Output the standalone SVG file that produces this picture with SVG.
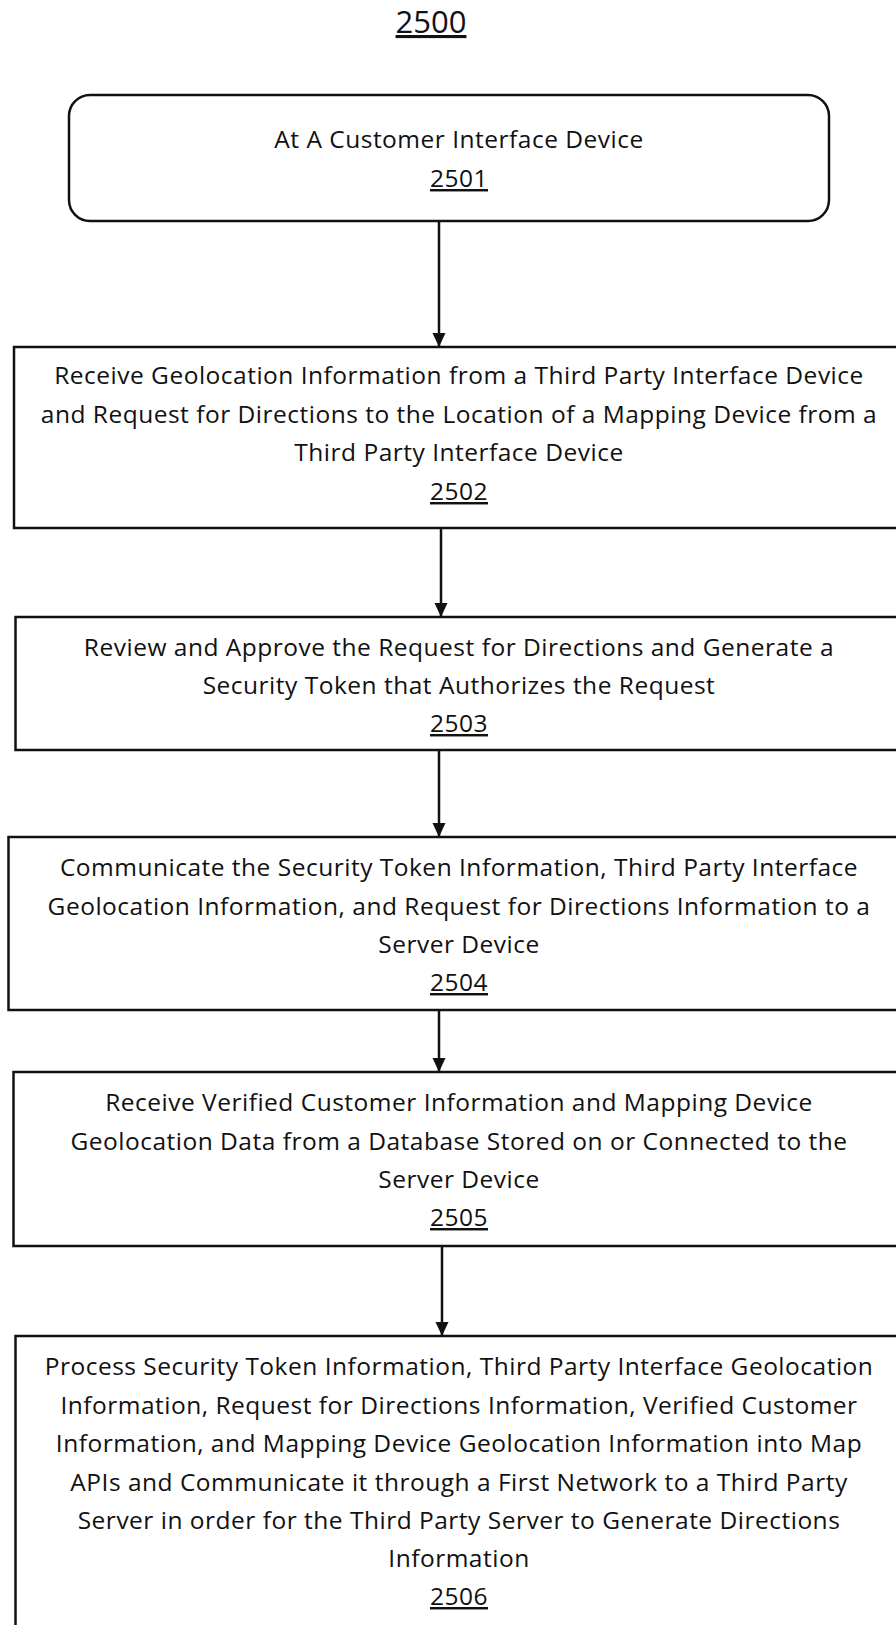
<svg xmlns="http://www.w3.org/2000/svg" width="896" height="1625" viewBox="0 0 896 1625">
  <style>
    .box { fill: #fff; stroke: #111; stroke-width: 2.5; }
    .lbl { font-family: "Open Sans", "Liberation Sans", sans-serif; font-size: 24.5px; letter-spacing: 0.5px; fill: #111; text-anchor: middle; }
    .num { text-decoration: underline; }
    .title { font-family: "Open Sans", "Liberation Sans", sans-serif; font-size: 31px; fill: #111; text-anchor: middle; text-decoration: underline; }
    .conn { stroke: #111; stroke-width: 2.5; fill: none; marker-end: url(#arrow); }
  </style>
  <defs>
    <marker id="arrow" markerUnits="userSpaceOnUse" markerWidth="14" markerHeight="14" viewBox="0 0 14 14" refX="14" refY="7" orient="auto">
      <path d="M0,0.5 L14,7 L0,13.5 z" fill="#111"/>
    </marker>
  </defs>
  <rect width="896" height="1625" fill="#fff"/>

  <text class="title" x="431" y="33">2500</text>

  <g id="connectors">
    <line class="conn" x1="439" y1="221" x2="439" y2="347"/>
    <line class="conn" x1="441" y1="528" x2="441" y2="617"/>
    <line class="conn" x1="439" y1="750" x2="439" y2="837"/>
    <line class="conn" x1="439" y1="1010" x2="439" y2="1072"/>
    <line class="conn" x1="442" y1="1246" x2="442" y2="1336"/>
  </g>

  <g id="n2501">
    <rect class="box" x="69" y="95" width="760" height="126" rx="21" ry="21"/>
    <text class="lbl" x="459" y="148">At A Customer Interface Device</text>
    <text class="lbl num" x="459" y="187">2501</text>
  </g>

  <g id="n2502">
    <rect class="box" x="14" y="347" width="892" height="181"/>
    <text class="lbl" x="459" y="384">Receive Geolocation Information from a Third Party Interface Device</text>
    <text class="lbl" x="459" y="422.5">and Request for Directions to the Location of a Mapping Device from a</text>
    <text class="lbl" x="459" y="461">Third Party Interface Device</text>
    <text class="lbl num" x="459" y="500">2502</text>
  </g>

  <g id="n2503">
    <rect class="box" x="15.5" y="617" width="892" height="133"/>
    <text class="lbl" x="459" y="656">Review and Approve the Request for Directions and Generate a</text>
    <text class="lbl" x="459" y="694">Security Token that Authorizes the Request</text>
    <text class="lbl num" x="459" y="732">2503</text>
  </g>

  <g id="n2504">
    <rect class="box" x="8.5" y="837" width="900" height="173"/>
    <text class="lbl" x="459" y="876">Communicate the Security Token Information, Third Party Interface</text>
    <text class="lbl" x="459" y="914.5">Geolocation Information, and Request for Directions Information to a</text>
    <text class="lbl" x="459" y="953">Server Device</text>
    <text class="lbl num" x="459" y="991">2504</text>
  </g>

  <g id="n2505">
    <rect class="box" x="13.5" y="1072" width="895" height="174"/>
    <text class="lbl" x="459" y="1111">Receive Verified Customer Information and Mapping Device</text>
    <text class="lbl" x="459" y="1149.5">Geolocation Data from a Database Stored on or Connected to the</text>
    <text class="lbl" x="459" y="1188">Server Device</text>
    <text class="lbl num" x="459" y="1226">2505</text>
  </g>

  <g id="n2506">
    <rect class="box" x="15.5" y="1336" width="892" height="320"/>
    <text class="lbl" x="459" y="1375">Process Security Token Information, Third Party Interface Geolocation</text>
    <text class="lbl" x="459" y="1414">Information, Request for Directions Information, Verified Customer</text>
    <text class="lbl" x="459" y="1452">Information, and Mapping Device Geolocation Information into Map</text>
    <text class="lbl" x="459" y="1490.5">APIs and Communicate it through a First Network to a Third Party</text>
    <text class="lbl" x="459" y="1529">Server in order for the Third Party Server to Generate Directions</text>
    <text class="lbl" x="459" y="1567">Information</text>
    <text class="lbl num" x="459" y="1605">2506</text>
  </g>
</svg>
